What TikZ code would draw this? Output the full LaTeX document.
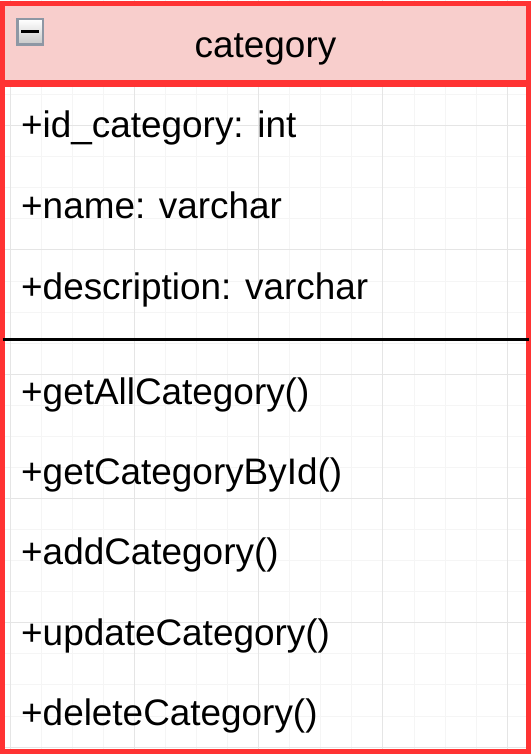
\documentclass[tikz,border=0pt]{standalone}
\usepackage{fontspec}
\setmainfont{Liberation Sans}
\definecolor{umlred}{HTML}{FF3333}
\definecolor{umlpink}{HTML}{F8CECC}
\definecolor{iconedge}{HTML}{8E97A4}

\begin{document}
\begin{tikzpicture}[x=1pt,y=-1pt,
    txt/.style={inner sep=0pt,font=\fontsize{36.9}{44}\selectfont},
    member/.style={txt,anchor=base west},
    box/.style={draw=umlred,line width=5pt,inner sep=0pt,outer sep=0pt,anchor=north west,minimum width=526pt},
    minorline/.style={draw=black!4,line width=0.8pt},
    majorline/.style={draw=black!10,line width=0.8pt}]
    \useasboundingbox (0,0) rectangle (531,754);
    \foreach \i in {0,...,16}
      \draw[minorline] (10+31.07*\i,0) -- (10+31.07*\i,754);
    \foreach \i in {0,...,24}
      \draw[minorline] (0,1.3+31.07*\i) -- (531,1.3+31.07*\i);
    \foreach \i in {0,4,...,16}
      \draw[majorline] (10+31.07*\i,0) -- (10+31.07*\i,754);
    \foreach \i in {0,4,...,24}
      \draw[majorline] (0,1.3+31.07*\i) -- (531,1.3+31.07*\i);
    \node[box,fill=umlpink,minimum height=78.5pt] (header) at (2.5,4) {};
    \node[box,minimum height=666.5pt] (body) at (2.5,85) {};
    \node[draw=iconedge,line width=2.5pt,top color=white,bottom color=black!22,minimum size=25.5pt,inner sep=0pt] (toggle) at (30,32) {};
    \draw[line width=3pt] ([xshift=-9pt]toggle.center) -- ([xshift=9pt]toggle.center);
    \node[txt,anchor=base] (title) at (265.5,58) {category};
    \draw[line width=3pt] (body.west |- 0,339) -- (body.east |- 0,339);
    \foreach \txt [count=\k] in {+id\_category: int,+name: varchar,+description: varchar}
      \node[member] (attr\k) at (21,57.5+80.5*\k) {\txt};
    \foreach \txt [count=\k] in {+getAllCategory(),+getCategoryById(),+addCategory(),+updateCategory(),+deleteCategory()}
      \node[member] (op\k) at (21,323.6+80.4*\k) {\txt};
\end{tikzpicture}
\end{document}
